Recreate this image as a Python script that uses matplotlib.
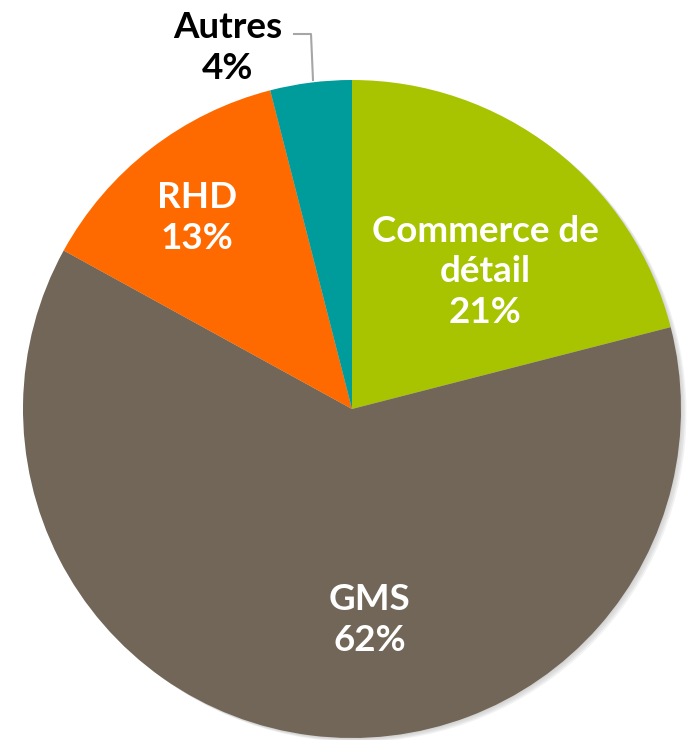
import matplotlib.pyplot as plt
from matplotlib.patches import Circle

# Données
categories = ["Commerce de\ndétail", "GMS", "RHD", "Autres"]
valeurs = [21, 62, 13, 4]
couleurs = ["#a8c400", "#716657", "#ff6a00", "#009b9b"]

plt.rcParams['font.family'] = ['Lato', 'DejaVu Sans']

fig = plt.figure(figsize=(6.92, 7.4), dpi=100)
ax = fig.add_axes([0, 0, 1, 1])
ax.set_xlim(0, 692)
ax.set_ylim(0, 740)
ax.set_aspect('equal')
ax.axis('off')

cx, cy, r = 352, 740 - 409, 329

# ombre légère
for k, a in enumerate([0.03, 0.04, 0.05, 0.05]):
    ax.add_patch(Circle((cx + 1 + k * 1.5, cy - 1 - k), r, color='black', alpha=a, lw=0, zorder=0))

ax.pie(valeurs, colors=couleurs, startangle=90, counterclock=False,
       center=(cx, cy), radius=r, frame=True,
       wedgeprops=dict(linewidth=0), normalize=True)
ax.set_xlim(0, 692)
ax.set_ylim(0, 740)
ax.axis('off')

labels = [f"{c}\n{v}%" for c, v in zip(categories, valeurs)]
pos = [(485, 740 - 272), (370, 740 - 620), (197, 740 - 218), (228, 740 - 48)]
txt_col = ["white", "white", "white", "black"]
for lab, (x, y), c in zip(labels, pos, txt_col):
    ax.text(x, y, lab, ha='center', va='center', color=c, fontsize=26.5,
            fontweight='bold', linespacing=1.28)

# trait de rappel pour Autres
ax.plot([294, 311, 313], [740 - 34, 740 - 34, 740 - 80], color='#a6a6a6', lw=1.5)

fig.savefig("out.png", dpi=100)
